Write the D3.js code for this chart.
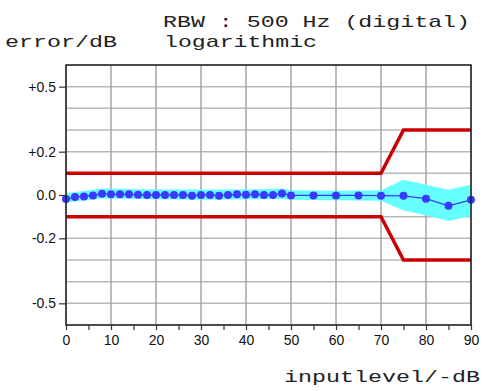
<!DOCTYPE html>
<html>
<head>
<meta charset="utf-8">
<script src="https://cdn.jsdelivr.net/npm/d3@7"></script>
<style>
  body { margin: 0; background: #fff; }
  .mono { font-family: "Liberation Mono", "Courier New", monospace; font-size: 17px; fill: #222; }
</style>
</head>
<body>
<svg width="484" height="391"></svg>
<script>
// measured points (inputlevel in -dB, error in dB)
var levels = [0, 2, 4, 6, 8, 10, 12, 14, 16, 18, 20, 22, 24, 26, 28, 30, 32, 34, 36, 38, 40, 42, 44, 46, 48, 50, 55, 60, 65, 70, 75, 80, 85, 90];
var errors = [-0.019, -0.009, -0.007, -0.002, 0.006, 0.003, 0.003, 0.003, 0.001, 0.000, 0.000, 0.000, 0.000, 0.000, -0.003, 0.000, 0.000, -0.003, 0.000, 0.003, 0.001, 0.004, 0.000, 0.000, 0.007, -0.002, -0.002, -0.002, -0.002, -0.003, -0.004, -0.017, -0.050, -0.022];

// uncertainty band (cyan)
var bandLevels = [0, 8, 20, 30, 40, 48, 50, 60, 70, 75, 80, 85, 90];
var bandHi = [0.008, 0.030, 0.025, 0.025, 0.025, 0.030, 0.022, 0.020, 0.022, 0.070, 0.047, 0.024, 0.048];
var bandLo = [-0.035, -0.016, -0.020, -0.022, -0.020, -0.018, -0.022, -0.024, -0.026, -0.072, -0.094, -0.120, -0.097];

// tolerance limits (red)
var limLevels = [0, 70, 75, 90];
var limHi = [0.1, 0.1, 0.3, 0.3];
var limLo = [-0.1, -0.1, -0.3, -0.3];

// axis ticks
var yTickValues = [0.5, 0.2, 0, -0.2, -0.5];
var yTickLabels = ["+0.5", "+0.2", "0.0", "-0.2", "-0.5"];
var yGrid = d3.range(-6, 7).map(function(d) { return d / 10; });
var xTicks = d3.range(0, 91, 5);
var xGrid = d3.range(0, 91, 10);

var svg = d3.select("svg");

var x = d3.scaleLinear().domain([0, 90]).range([66, 471]);
var y = d3.scaleLinear().domain([-0.6, 0.6]).range([325, 65]);

// grid
svg.append("g").selectAll("line.h")
  .data(yGrid)
  .enter().append("line")
  .attr("x1", x(0)).attr("x2", x(90))
  .attr("y1", function(d) { return y(d); })
  .attr("y2", function(d) { return y(d); })
  .attr("stroke", "#b8b8b8")
  .attr("stroke-width", 1.5);

svg.append("g").selectAll("line.v")
  .data(xGrid)
  .enter().append("line")
  .attr("y1", y(0.6)).attr("y2", y(-0.6))
  .attr("x1", function(d) { return x(d); })
  .attr("x2", function(d) { return x(d); })
  .attr("stroke", "#a4a4a4")
  .attr("stroke-width", 1.5);

// cyan band
var band = bandLevels.map(function(d, i) { return { x: d, hi: bandHi[i], lo: bandLo[i] }; });
svg.append("path")
  .datum(band)
  .attr("fill", "#66ffff")
  .attr("d", d3.area()
    .x(function(d) { return x(d.x); })
    .y0(function(d) { return y(d.lo); })
    .y1(function(d) { return y(d.hi); }));

// red limits
var line = d3.line()
  .x(function(d) { return x(d[0]); })
  .y(function(d) { return y(d[1]); });

[limHi, limLo].forEach(function(lim) {
  svg.append("path")
    .datum(limLevels.map(function(d, i) { return [d, lim[i]]; }))
    .attr("fill", "none")
    .attr("stroke", "#cc0000")
    .attr("stroke-width", 3.5)
    .attr("d", line);
});

// measured line + points
var pts = levels.map(function(d, i) { return [d, errors[i]]; });
svg.append("path")
  .datum(pts)
  .attr("fill", "none")
  .attr("stroke", "#3b3bff")
  .attr("stroke-width", 1.3)
  .attr("d", line);

svg.append("g").selectAll("circle")
  .data(pts)
  .enter().append("circle")
  .attr("cx", function(d) { return x(d[0]); })
  .attr("cy", function(d) { return y(d[1]); })
  .attr("r", 4)
  .attr("fill", "#3a3aff");

// frame
svg.append("rect")
  .attr("x", x(0)).attr("y", y(0.6))
  .attr("width", x(90) - x(0))
  .attr("height", y(-0.6) - y(0.6))
  .attr("fill", "none")
  .attr("stroke", "#222")
  .attr("stroke-width", 1.5);

// axes
var yAxis = svg.append("g")
  .attr("transform", "translate(" + x(0) + ",0)")
  .call(d3.axisLeft(y)
    .tickValues(yTickValues)
    .tickSize(7)
    .tickPadding(3)
    .tickFormat(function(d, i) { return yTickLabels[i]; }));
yAxis.select(".domain").remove();

var xAxis = svg.append("g")
  .attr("transform", "translate(0," + y(-0.6) + ")")
  .call(d3.axisBottom(x)
    .tickValues(xTicks)
    .tickSize(5)
    .tickPadding(5)
    .tickFormat(function(d) { return d % 10 === 0 ? d : ""; }));
xAxis.select(".domain").remove();

[xAxis, yAxis].forEach(function(ax) {
  ax.attr("font-family", "'Liberation Sans', Arial, sans-serif").attr("font-size", 14);
  ax.selectAll(".tick line").attr("stroke", "#333").attr("stroke-width", 1.2);
  ax.selectAll(".tick text").attr("fill", "#111");
});

// titles
function label(str, px, py, len) {
  svg.append("text")
    .attr("class", "mono")
    .attr("x", px).attr("y", py)
    .attr("textLength", len)
    .attr("lengthAdjust", "spacingAndGlyphs")
    .text(str);
}
label("RBW : 500 Hz (digital)", 163, 27, 307);
label("error/dB", 5, 47, 112);
label("logarithmic", 164, 47, 153);
label("inputlevel/-dB", 284, 382, 196);
</script>
</body>
</html>
